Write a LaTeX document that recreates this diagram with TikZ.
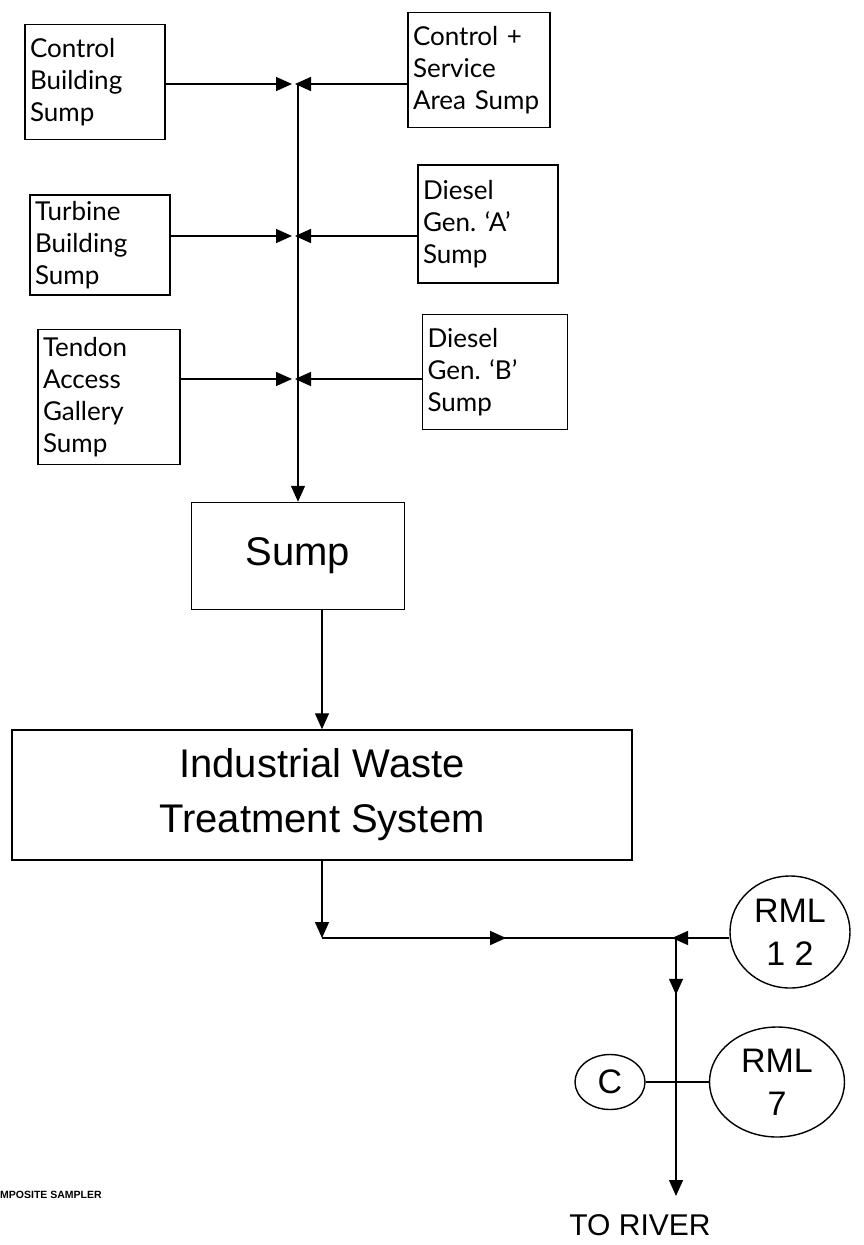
\documentclass[tikz,border=0pt]{standalone}
\usepackage{fontspec}
\setmainfont{Liberation Sans}
\newfontfamily\boxfont{Lato}
\usetikzlibrary{arrows.meta,positioning,shapes.geometric,decorations.markings}
\tikzset{
 srcbox/.style={draw,line width=1.5pt,align=left,inner sep=5pt,font=\boxfont\fontsize{26}{32}\selectfont},
 bigbox/.style={draw,line width=1.5pt,align=center,inner sep=0pt,font=\fontsize{40}{55}\selectfont},
 monitor/.style={draw,ellipse,line width=1.4pt,align=center,inner sep=0pt,font=\fontsize{34}{43}\selectfont},
 pipe/.style={line width=1.4pt},
 flow/.style={pipe,-{Triangle[length=16pt,width=14pt]}},
 midarrow/.style={postaction={decorate},decoration={markings,mark=at position #1 with {\arrow{Triangle[length=16pt,width=14pt]}}}}
}
\begin{document}
\begin{tikzpicture}[x=1pt,y=-1pt]
\useasboundingbox (0,0) rectangle (863,1245);
% sumps feeding the trunk line
\node[srcbox,text width=130pt,minimum height=115pt] (cb) at (95,82) {Control\\Building\\Sump};
\node[srcbox,text width=132pt,minimum height=115pt] (cs) at (479,70) {Control +\\Service\\Area Sump};
\node[srcbox,text width=130pt,minimum height=100pt] (tb) at (100,245) {Turbine\\Building\\Sump};
\node[srcbox,text width=130pt,minimum height=118pt] (da) at (488,224) {Diesel\\Gen.\ ‘A’\\Sump};
\node[srcbox,text width=132pt,minimum height=135pt] (ta) at (109,397) {Tendon\\Access\\Gallery\\Sump};
\node[srcbox,text width=135pt,minimum height=115pt] (db) at (495,372) {Diesel\\Gen.\ ‘B’\\Sump};
\node[bigbox,minimum width=213pt,minimum height=107pt] (sump) at (298,556) {Sump};
\node[bigbox,minimum width=620pt,minimum height=130pt] (iw) at (322,795) {Industrial Waste\\Treatment System};
% monitors and sampler
\node[monitor,minimum width=120pt,minimum height=112pt] (rml12) at (790,932) {RML\\1 2};
\node[monitor,minimum width=135pt,minimum height=110pt] (rml7) at (777,1082) {RML\\7};
\node[monitor,minimum width=70pt,minimum height=55pt] (c) at (610,1082) {C};
\node[font=\fontsize{30}{36}\selectfont] (river) at (640,1225) {TO RIVER};
\node[font=\bfseries\fontsize{10.5}{12}\selectfont,anchor=west,inner sep=0pt] (sampler) at (0,1195) {MPOSITE SAMPLER};
% trunk points
\coordinate (t1) at (298,84);
\coordinate (t2) at (298,236);
\coordinate (t3) at (298,379);
\coordinate (bend) at (322,938);
\coordinate (j) at (676,938);
\coordinate (out) at (676,1196);
\draw[flow] (t1) -- (sump.north);
\draw[flow,shorten >=6pt] (cb.east |- t1) -- (t1);
\draw[flow,shorten >=-3pt] (cs.west |- t1) -- (t1);
\draw[flow,shorten >=6pt] (tb.east |- t2) -- (t2);
\draw[flow,shorten >=-3pt] (da.west |- t2) -- (t2);
\draw[flow,shorten >=6pt] (ta.east |- t3) -- (t3);
\draw[flow,shorten >=-3pt] (db.west |- t3) -- (t3);
\draw[flow] (sump.south -| iw.north) -- (iw.north);
\draw[flow] (iw.south) -- (bend);
\draw[pipe,midarrow=0.52] (bend) -- (j);
\draw[flow,shorten >=-4pt] (rml12.west |- j) -- (j);
\draw[flow,midarrow=0.22] (j) -- (out);
\draw[pipe] (c.east) -- (rml7.west);
\end{tikzpicture}
\end{document}
